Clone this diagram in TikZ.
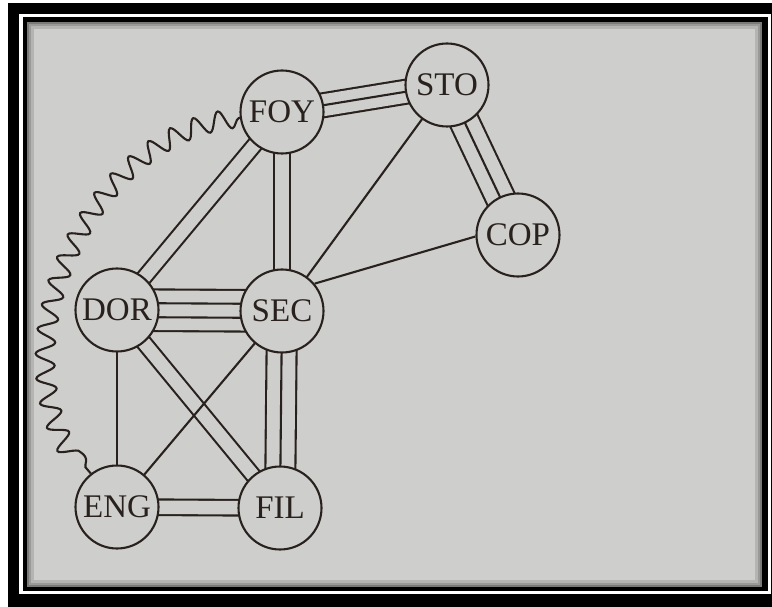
\documentclass[tikz,border=0pt]{standalone}
\usepackage{fontspec}
\setmainfont{Liberation Serif}
\usetikzlibrary{decorations.pathmorphing}
\definecolor{paper}{RGB}{206,206,204}
\definecolor{ink}{RGB}{40,33,29}
\pgfdeclarelayer{back}
\pgfdeclarelayer{edges}
\pgfsetlayers{back,edges,main}
\begin{document}
\begin{tikzpicture}[x=1pt,y=1pt,
  room/.style={circle, draw=ink, fill=paper, line width=2.1pt, minimum size=83pt,
    inner sep=0pt, font=\fontsize{33}{33}\selectfont, text=ink},
  single/.style={draw=ink, line width=2.1pt},
  dbl/.style={draw=ink, line width=2.1pt, double=paper, double distance=#1},
  wavy/.style={draw=ink, line width=2.1pt, decorate,
    decoration={snake, amplitude=9.5pt, segment length=24pt, pre length=1pt, post length=1pt}}
]
\useasboundingbox (0,0) rectangle (772,-607);

% nodes
\node[room] (FOY) at (282,-112) {FOY};
\node[room] (STO) at (447,-85) {STO};
\node[room] (COP) at (518,-235) {COP};
\node[room] (DOR) at (117,-310) {DOR};
\node[room] (SEC) at (282,-311) {SEC};
\node[room] (ENG) at (117,-507) {ENG};
\node[room] (FIL) at (280,-508) {FIL};

% frame and paper
\begin{pgfonlayer}{back}
  \fill[white] (0,0) rectangle (772,-607);
  \fill[black] (8,-3) rectangle (772,-607);
  \fill[white] (19,-14) rectangle (771,-594);
  \fill[black] (23,-17) rectangle (768,-591);
  \fill[paper] (27,-22) rectangle (762,-587);
  \begin{scope}
    \clip (27,-22) rectangle (762,-587);
    \draw[black, opacity=0.12, line width=14pt] (27,-22) rectangle (762,-587);
    \draw[black, opacity=0.15, line width=8pt] (27,-22) rectangle (762,-587);
    \draw[black, opacity=0.2, line width=4pt] (27,-22) rectangle (762,-587);
  \end{scope}
\end{pgfonlayer}

% connectors
\begin{pgfonlayer}{edges}
  % FOY - STO : three lines
  \draw[dbl=21.9pt] (FOY.center) -- (STO.center);
  \draw[single] (FOY.center) -- (STO.center);
  % STO - COP : three lines
  \draw[dbl=27.5pt] (STO.center) -- (COP.center);
  \draw[single] (STO.center) -- (COP.center);
  % FOY - DOR : two lines
  \draw[dbl=13.1pt] (FOY.center) -- (DOR.center);
  % FOY - SEC : two lines
  \draw[dbl=13.5pt] (FOY.center) -- (SEC.center);
  % DOR - SEC : four lines
  \draw[dbl=39.5pt] (DOR.center) -- (SEC.center);
  \draw[dbl=11.9pt] (DOR.center) -- (SEC.center);
  % SEC - FIL : three lines
  \draw[dbl=27.9pt] (SEC.center) -- (FIL.center);
  \draw[single] (SEC.center) -- (FIL.center);
  % ENG - FIL : two lines
  \draw[dbl=13.5pt] (ENG.center) -- (FIL.center);
  % DOR - FIL : two lines
  \draw[dbl=13.1pt] (DOR.center) -- (FIL.center);
  % single lines
  \draw[single] (STO.center) -- (SEC.center);
  \draw[single] (SEC.center) -- (ENG.center);
  \draw[single] (DOR.center) -- (ENG.center);
\end{pgfonlayer}
\draw[single] (SEC.40) -- (COP.182);

% wavy connector
\draw[wavy] (FOY.188) to[out=186, in=131, looseness=1.0] (ENG.128);
\end{tikzpicture}
\end{document}
